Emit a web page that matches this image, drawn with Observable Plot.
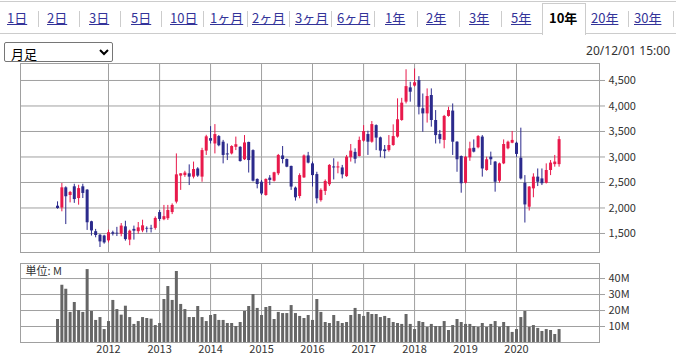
<!DOCTYPE html>
<html><head><meta charset="utf-8">
<script src="https://cdn.jsdelivr.net/npm/d3@7"></script>
<script src="https://cdn.jsdelivr.net/npm/@observablehq/plot@0.6"></script>
<style>
body{margin:0;background:#fff;font-family:"Noto Sans CJK JP","Noto Sans",sans-serif;}
#wrap{position:relative;width:676px;height:356px;overflow:hidden;}
.tab{position:absolute;top:8px;font-size:13px;line-height:20px;color:#333399;text-decoration:underline;white-space:nowrap;}
.tab.on{color:#000;font-weight:bold;text-decoration:none;}
.sep{position:absolute;top:11px;width:1px;height:16px;background:#ccc;}
#topline{position:absolute;left:0;top:1px;width:676px;height:1px;background:#ccc;}
#tabline{position:absolute;left:0;top:33px;width:676px;height:1px;background:#ccc;}
#onbox{position:absolute;left:542px;top:3px;width:42px;height:31px;background:#fff;border:1px solid #ccc;border-bottom:none;}
#sel{position:absolute;left:4px;top:42px;width:109px;height:20px;font-size:13px;font-family:"Noto Sans CJK JP",sans-serif;border:1px solid #767676;border-radius:2px;background:#fff;padding:0 2px;}
#date{position:absolute;right:6px;top:42px;font-size:12px;line-height:18px;color:#333;font-family:"Noto Sans",sans-serif;}
#price{position:absolute;left:0;top:58px;}
#volume{position:absolute;left:0;top:258px;}
</style></head>
<body><div id="wrap">
<div id="topline"></div><div id="tabline"></div><div id="onbox"></div>
<div id="tabs"></div>
<select id="sel"><option>月足</option></select>
<div id="date">20/12/01 15:00</div>
<div id="price"></div>
<div id="volume"></div>
</div>
<script>
// ---- data (monthly candles Jan 2011 .. Nov 2020) ----
const startMonth = "2011-01";
const open  = [2035,2000,2395,2245,2415,2185,2415,2350,1730,1535,1465,1450,1355,1515,1505,1485,1630,1370,1580,1535,1550,1600,1600,1600,1910,1770,1790,1910,2115,2625,2635,2670,2605,2765,2605,3115,3360,3255,3400,3290,3060,3060,3190,3190,2945,3285,3125,2560,2505,2245,2585,2525,2670,3020,2950,2815,2390,2225,2590,3020,2865,2655,2145,2325,2455,2805,2785,2785,2615,2985,3090,3010,3310,3440,3290,3615,3375,3140,3125,3225,3390,3715,4075,4355,4390,4500,3945,3845,4205,3715,3440,3325,3795,3900,3290,3010,2485,2985,3170,3180,3390,2735,2995,2900,2525,2865,3160,3270,3270,2975,2485,2015,2375,2605,2570,2485,2735,2850,2850];
const high  = [2120,2480,2415,2325,2465,2445,2465,2360,1740,1580,1480,1465,1565,1545,1620,1695,1740,1565,1645,1715,1760,1630,1660,1825,1950,2050,2050,2080,3060,2670,2720,2845,2900,2790,3170,3425,3595,3635,3420,3325,3255,3220,3390,3200,3420,3290,3140,2570,2540,2570,2635,2700,3050,3205,2960,2820,2410,2670,3040,3090,2900,2700,2375,2550,2850,2965,2900,2835,3030,3245,3160,3390,3615,3505,3695,3630,3390,3225,3420,3630,4140,4150,4710,4465,4725,4575,4235,4335,4335,3910,3520,3815,3975,4040,3300,3020,3010,3290,3335,3420,3420,2995,3095,2910,2880,3335,3310,3500,3290,3565,2635,2420,2670,2765,2765,2865,2930,3030,3400];
const low   = [1975,1925,1675,2100,2090,2055,2185,1560,1450,1415,1225,1290,1315,1450,1440,1435,1350,1260,1370,1485,1515,1510,1510,1565,1735,1750,1755,1870,2080,2345,2600,2440,2570,2600,2505,3030,3255,3060,3200,2865,2930,3040,3125,2900,2930,2685,2510,2375,2245,2230,2440,2510,2635,2865,2790,2345,2135,2180,2580,2865,2410,2080,2115,2245,2420,2550,2670,2570,2600,2900,2865,3000,3290,3030,3270,3125,2985,2965,3095,3210,3370,3700,4040,4075,4370,3825,3485,3665,3585,3255,3255,3160,3780,3030,2700,2290,2470,2915,3080,3160,2605,2720,2835,2310,2485,2850,3140,3260,2995,2550,1705,1940,2200,2420,2440,2470,2635,2800,2800];
const close = [1990,2395,2220,2305,2165,2380,2285,1710,1550,1460,1335,1315,1515,1485,1490,1645,1380,1545,1545,1610,1650,1585,1585,1795,1775,1830,1950,2050,2650,2670,2685,2605,2755,2625,3125,3395,3310,3440,3220,3030,3040,3205,3240,2910,3275,2930,2525,2460,2275,2560,2540,2690,3030,2950,2800,2410,2200,2635,3020,2880,2635,2180,2345,2520,2835,2785,2805,2650,2995,3115,2955,3325,3500,3290,3635,3370,3115,3105,3225,3400,3730,4055,4380,4270,4455,3975,3845,4185,3715,3420,3340,3795,3910,3290,2945,2475,2995,3160,3095,3400,2765,2945,2945,2505,2865,3245,3290,3325,3050,2570,2060,2410,2605,2505,2475,2735,2880,2900,3340];
const volume = [14.4,35.8,33.3,18.8,25,20,18.8,45.6,19.4,13.8,15.6,8.1,13.1,26.3,20.6,17.1,22.7,15.6,11.3,13.1,15.6,15,14.6,10.6,11.9,26.9,35,26.3,44.4,23.8,20.6,15.6,15.6,22.5,15.6,13.1,16.9,17.5,13.8,13.8,11.9,11.9,10,12.5,19.4,22.5,30,21.3,16.9,21.9,22.5,14.4,18.8,18.1,18.1,23.1,18.1,16.3,15,16.9,13.8,26.9,18.8,12.5,11.9,16.9,13.1,11.9,12.5,16.9,21.3,17.5,16.3,18.8,17.5,17.5,15.6,16.3,15,12.5,11.9,11.3,17.5,11.3,8.1,13.1,12.5,9.4,11.3,10,10,13.1,7.5,10.6,14.4,12.5,11.3,11.3,10,9.4,11.9,9.4,11.3,13.1,9.4,12.5,10,6.3,8.1,15.6,19.4,9.4,10.6,8.8,6.9,8.1,7.5,5,8.1];
const priceTicks = [1500,2000,2500,3000,3500,4000,4500];
const volumeTicks = [10,20,30,40];
const yearLabels = [2012,2013,2014,2015,2016,2017,2018,2019,2020];
const tabLabels = ["1日","2日","3日","5日","10日","1ヶ月","2ヶ月","3ヶ月","6ヶ月","1年","2年","3年","5年","10年","20年","30年"];
const selectedTab = "10年";

// ---- tabs ----
const tabLeft = [7,47,89,131,170,210,252,295,337,385,426,469,511,549,591,634];
const sepLeft = [38,79,120,161,203,247,289,331,374,417,459,501,628,673];
const tabsEl = document.getElementById("tabs");
tabLabels.forEach((t,i)=>{const a=document.createElement("span");a.className="tab"+(t===selectedTab?" on":"");a.textContent=t;a.style.left=tabLeft[i]+"px";tabsEl.appendChild(a);});
sepLeft.forEach(x=>{const s=document.createElement("div");s.className="sep";s.style.left=x+"px";tabsEl.appendChild(s);});

// ---- build table ----
const t0 = new Date(startMonth + "-01T00:00:00Z");
const dates = d3.utcMonth.range(t0, d3.utcMonth.offset(t0, open.length));
const data = dates.map((d,i)=>({date:d,open:open[i],high:high[i],low:low[i],close:close[i],volume:volume[i]}));
const up = data.filter(d=>d.close>=d.open), down = data.filter(d=>d.close<d.open);
const years = yearLabels.map(y=>new Date(Date.UTC(y,0,1)));

// x domain: frame 20..599 px, Jan 2012 at 108, Jan 2020 at 516
const a = +years[0], b = +years[years.length-1];
const k = (b-a)/408;
const xDomain = [new Date(a-88*k), new Date(b+83*k)];

const RED = "#e8194b", BLUE = "#2b2a8c", GRID = "#a0a0a0";
const font = {fontFamily:"'Noto Sans CJK JP','Noto Sans',sans-serif",fontSize:"11px",color:"#333",background:"transparent"};

const price = Plot.plot({
  width:676,height:200,marginLeft:20,marginRight:77,marginTop:5,marginBottom:6,
  style:font,
  x:{type:"utc",domain:xDomain,axis:null,label:null},
  y:{domain:[1127,4833],axis:null,label:null},
  marks:[
    Plot.gridX(years,{stroke:GRID,strokeOpacity:1}),
    Plot.gridY(priceTicks,{stroke:GRID,strokeOpacity:1}),
    Plot.axisY(priceTicks,{anchor:"right",label:null,tickSize:5,tickPadding:4,stroke:GRID,tickFormat:d3.format(",")}),
    Plot.frame({stroke:GRID}),
    Plot.ruleX(up,{x:"date",y1:"low",y2:"high",stroke:RED,strokeWidth:1}),
    Plot.ruleX(down,{x:"date",y1:"low",y2:"high",stroke:BLUE,strokeWidth:1}),
    Plot.ruleX(up,{x:"date",y1:"open",y2:"close",stroke:RED,strokeWidth:3}),
    Plot.ruleX(down,{x:"date",y1:"open",y2:"close",stroke:BLUE,strokeWidth:3})
  ]
});
document.getElementById("price").appendChild(price);

const vol = Plot.plot({
  width:676,height:98,marginLeft:20,marginRight:77,marginTop:5,marginBottom:14,
  style:font,
  x:{type:"utc",domain:xDomain,axis:null,label:null},
  y:{domain:[0,49.4],axis:null,label:null},
  marks:[
    Plot.gridX(years,{stroke:GRID,strokeOpacity:1}),
    Plot.gridY(volumeTicks,{stroke:GRID,strokeOpacity:1}),
    Plot.axisY(volumeTicks,{anchor:"right",label:null,tickSize:5,tickPadding:4,stroke:GRID,tickFormat:d=>d+"M"}),
    Plot.axisX(years,{anchor:"bottom",label:null,tickSize:0,tickPadding:3,tickFormat:d=>String(d.getUTCFullYear())}),
    Plot.ruleX(data,{x:"date",y1:0,y2:"volume",stroke:"#666",strokeWidth:3}),
    Plot.frame({stroke:GRID}),
    Plot.text(["単位: M"],{frameAnchor:"top-left",dx:5,dy:4,textAnchor:"start",lineAnchor:"top",fill:"#333"})
  ]
});
document.getElementById("volume").appendChild(vol);
</script>
</body></html>
